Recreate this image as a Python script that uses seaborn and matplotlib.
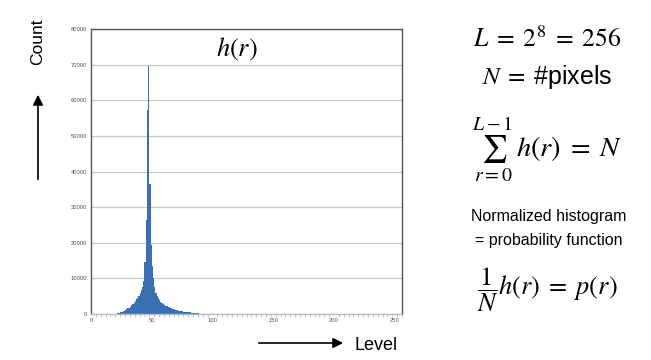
import numpy as np
import pandas as pd
import matplotlib
matplotlib.use("Agg")
import matplotlib.pyplot as plt
import seaborn as sns
from matplotlib.ticker import MultipleLocator

# ---- data ----
levels = list(range(18, 96))
counts = [30, 60, 110, 170, 250, 350, 460, 600, 750, 920,
          1100, 1300, 1550, 1800, 2100, 2450, 2800, 3200, 3650, 4100,
          4600, 5100, 5800, 6600, 7600, 9300, 14500, 26300, 57400, 69500,
          36400, 19500, 13500, 10000, 7600, 6000, 5000, 4400, 3900, 3500,
          3100, 2800, 2550, 2350, 2200, 2000, 1850, 1700, 1580, 1460,
          1350, 1250, 1150, 1060, 980, 900, 830, 760, 700, 640,
          580, 530, 480, 430, 390, 350, 310, 270, 230, 200,
          170, 140, 115, 90, 70, 50, 35, 20]
x_ticks = [0, 50, 100, 150, 200, 250]
y_ticks = [0, 10000, 20000, 30000, 40000, 50000, 60000, 70000, 80000]

df = pd.DataFrame({"level": levels, "count": counts})

sns.set_theme(style="white")
plt.rcParams["font.family"] = ["Liberation Sans", "DejaVu Sans"]
plt.rcParams["mathtext.fontset"] = "stix"
plt.rcParams["text.color"] = "black"

W, H = 651, 360
fig = plt.figure(figsize=(W / 100, H / 100), dpi=100)
fig.patch.set_facecolor("white")

def fx(x):
    return x / W

def fy(y):
    return 1 - y / H

ax = fig.add_axes([fx(91), fy(314), fx(402) - fx(91), fy(29) - fy(314)])
sns.histplot(data=df, x="level", weights="count", binwidth=1, binrange=(0, 256),
             color="#3a70b2", alpha=1.0, linewidth=0, ax=ax)
ax.set_xlim(0, 256)
ax.set_ylim(0, 80000)
ax.set_xticks(x_ticks)
ax.set_yticks(y_ticks)
ax.set_xticklabels([str(t) for t in x_ticks])
ax.set_yticklabels([str(t) for t in y_ticks])
ax.xaxis.set_minor_locator(MultipleLocator(4))
ax.tick_params(axis="both", which="major", labelsize=4.2, labelcolor="#555555",
               length=0, pad=3)
ax.tick_params(axis="x", which="minor", length=2, color="#bbbbbb", width=0.6,
               direction="out", bottom=True)
ax.set_xlabel("")
ax.set_ylabel("")
ax.yaxis.grid(True, color="#c8c8c8", linewidth=0.9)
ax.set_axisbelow(True)
for s in ["left", "top", "right"]:
    ax.spines[s].set_color("#555555")
    ax.spines[s].set_linewidth(1.0)
ax.spines["bottom"].set_color("#bbbbbb")
ax.spines["bottom"].set_linewidth(1.0)

ax.text(0.47, 0.93, r"$h(r)$", transform=ax.transAxes, ha="center", va="center",
        fontsize=19, color="black")

# axis labels with arrows
fig.text(fx(38), fy(42), "Count", rotation=90, ha="center", va="center",
         fontsize=12.5, color="black")
fig.add_artist(matplotlib.patches.FancyArrowPatch(
    (fx(38), fy(182)), (fx(38), fy(92)), transform=fig.transFigure,
    arrowstyle="-|>,head_length=6,head_width=3", color="black", lw=1.2))
fig.text(fx(376), fy(345), "Level", ha="center", va="center",
         fontsize=13, color="black")
fig.add_artist(matplotlib.patches.FancyArrowPatch(
    (fx(256), fy(343)), (fx(346), fy(343)), transform=fig.transFigure,
    arrowstyle="-|>,head_length=6,head_width=3", color="black", lw=1.2))

# right-hand formulas
fig.text(fx(547), fy(39), r"$L\;=\;2^8\;=\;256$", ha="center", va="center", fontsize=18.5)
fig.text(fx(547), fy(77), r"$N\;=\;$#pixels", ha="center", va="center", fontsize=18)
fig.text(fx(547), fy(149), r"$\sum_{r=0}^{L-1}\, h(r)\;=\;N$", ha="center", va="center",
         fontsize=20.5)
fig.text(fx(549), fy(217), "Normalized histogram", ha="center", va="center", fontsize=11.5)
fig.text(fx(549), fy(240), "= probability function", ha="center", va="center", fontsize=11.5)
fig.text(fx(547), fy(290), r"$\dfrac{1}{N}h(r)\;=\;p(r)$", ha="center", va="center",
         fontsize=19)

fig.savefig("out.png", dpi=100, facecolor="white")
